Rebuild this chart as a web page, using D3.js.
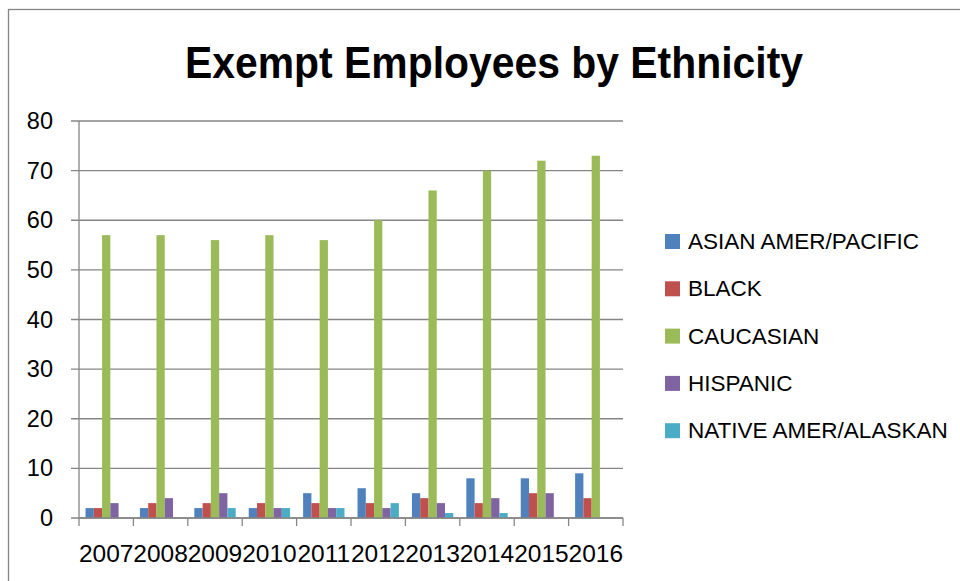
<!DOCTYPE html>
<html>
<head>
<meta charset="utf-8">
<script src="https://cdn.jsdelivr.net/npm/d3@7"></script>
<style>
  body { margin: 0; background: #fff; }
  .chart-container { width: 960px; height: 581px; }
  text { font-family: "Liberation Sans", Arial, sans-serif; fill: #000; }
  .title { font-weight: bold; }
  .grid line { stroke: #868686; stroke-width: 1.3; }
  .axis path, .axis line { stroke: #868686; stroke-width: 1.3; }
</style>
</head>
<body>
<div class="chart-container"></div>
<script>
// Chart data
const years = ['2007', '2008', '2009', '2010', '2011', '2012', '2013', '2014', '2015', '2016'];
const seriesNames = ['ASIAN AMER/PACIFIC', 'BLACK', 'CAUCASIAN', 'HISPANIC', 'NATIVE AMER/ALASKAN'];
const asian = [2, 2, 2, 2, 5, 6, 5, 8, 8, 9];
const black = [2, 3, 3, 3, 3, 3, 4, 3, 5, 4];
const caucasian = [57, 57, 56, 57, 56, 60, 66, 70, 72, 73];
const hispanic = [3, 4, 5, 2, 2, 2, 3, 4, 5, 0];
const native = [0, 0, 2, 2, 2, 3, 1, 1, 0, 0];
const yTicks = [0, 10, 20, 30, 40, 50, 60, 70, 80];
const colors = ['#4F81BD', '#C0504D', '#9BBB59', '#8064A2', '#4BACC6'];

function drawChart() {
    d3.select('.chart-container').html('');

    const W = 960, H = 581;
    const margin = { top: 121, left: 79, right: 337, bottom: 63 };
    const width = W - margin.left - margin.right;
    const height = H - margin.top - margin.bottom;

    const svg = d3.select('.chart-container')
        .append('svg')
        .attr('width', W)
        .attr('height', H);

    // outer frame of the chart area
    svg.append('rect')
        .attr('x', 8.5).attr('y', 9.5)
        .attr('width', 980).attr('height', 600)
        .attr('fill', 'none')
        .attr('stroke', '#868686')
        .attr('stroke-width', 1.3);

    svg.append('text')
        .attr('class', 'title')
        .attr('x', 494)
        .attr('y', 78)
        .attr('text-anchor', 'middle')
        .attr('font-size', 45)
        .attr('textLength', 618)
        .attr('lengthAdjust', 'spacingAndGlyphs')
        .text('Exempt Employees by Ethnicity');

    const g = svg.append('g')
        .attr('transform', `translate(${margin.left},${margin.top})`);

    const series = [asian, black, caucasian, hispanic, native];

    const x0 = d3.scaleBand()
        .domain(years)
        .range([0, width])
        .paddingInner(0.24)
        .paddingOuter(0.12);

    const x1 = d3.scaleBand()
        .domain(d3.range(seriesNames.length))
        .range([0, x0.bandwidth()]);

    const y = d3.scaleLinear()
        .domain([0, 80])
        .range([height, 0]);

    // grid lines
    g.append('g')
        .attr('class', 'grid')
        .selectAll('line')
        .data(yTicks)
        .enter()
        .append('line')
        .attr('x1', -8)
        .attr('x2', width)
        .attr('y1', d => y(d))
        .attr('y2', d => y(d));

    // y axis labels
    g.append('g')
        .selectAll('text')
        .data(yTicks)
        .enter()
        .append('text')
        .attr('x', -26)
        .attr('y', d => y(d) + 8)
        .attr('text-anchor', 'end')
        .attr('font-size', 23.5)
        .text(d => d);

    // y axis line
    g.append('line')
        .attr('x1', 0).attr('x2', 0)
        .attr('y1', 0).attr('y2', height)
        .attr('stroke', '#868686')
        .attr('stroke-width', 1.3);

    // bars
    const groups = g.selectAll('.year')
        .data(years)
        .enter()
        .append('g')
        .attr('class', 'year')
        .attr('transform', d => `translate(${x0(d)},0)`);

    groups.selectAll('rect')
        .data((d, i) => series.map((s, k) => ({ k: k, v: s[i] })))
        .enter()
        .append('rect')
        .attr('x', d => x1(d.k))
        .attr('width', x1.bandwidth())
        .attr('y', d => y(d.v))
        .attr('height', d => height - y(d.v))
        .attr('fill', d => colors[d.k]);

    // x axis with ticks between categories
    const xAxis = g.append('g')
        .attr('class', 'axis')
        .attr('transform', `translate(0,${height})`);

    xAxis.append('line')
        .attr('x1', 0).attr('x2', width)
        .attr('y1', 0).attr('y2', 0);

    const step = x0.step();
    xAxis.selectAll('.tick')
        .data(d3.range(years.length + 1))
        .enter()
        .append('line')
        .attr('class', 'tick')
        .attr('x1', i => i * step)
        .attr('x2', i => i * step)
        .attr('y1', 0)
        .attr('y2', 8);

    xAxis.selectAll('.label')
        .data(years)
        .enter()
        .append('text')
        .attr('class', 'label')
        .attr('x', d => x0(d) + x0.bandwidth() / 2)
        .attr('y', 44)
        .attr('text-anchor', 'middle')
        .attr('font-size', 24.5)
        .text(d => d);

    // legend
    const legend = svg.append('g')
        .attr('transform', 'translate(665,241)');

    const item = legend.selectAll('.item')
        .data(seriesNames)
        .enter()
        .append('g')
        .attr('class', 'item')
        .attr('transform', (d, i) => `translate(0,${i * 47.3})`);

    item.append('rect')
        .attr('x', 0)
        .attr('y', -7)
        .attr('width', 15)
        .attr('height', 15)
        .attr('fill', (d, i) => colors[i]);

    item.append('text')
        .attr('x', 23)
        .attr('y', 8)
        .attr('font-size', 22.5)
        .text(d => d);
}

drawChart();
</script>
</body>
</html>
